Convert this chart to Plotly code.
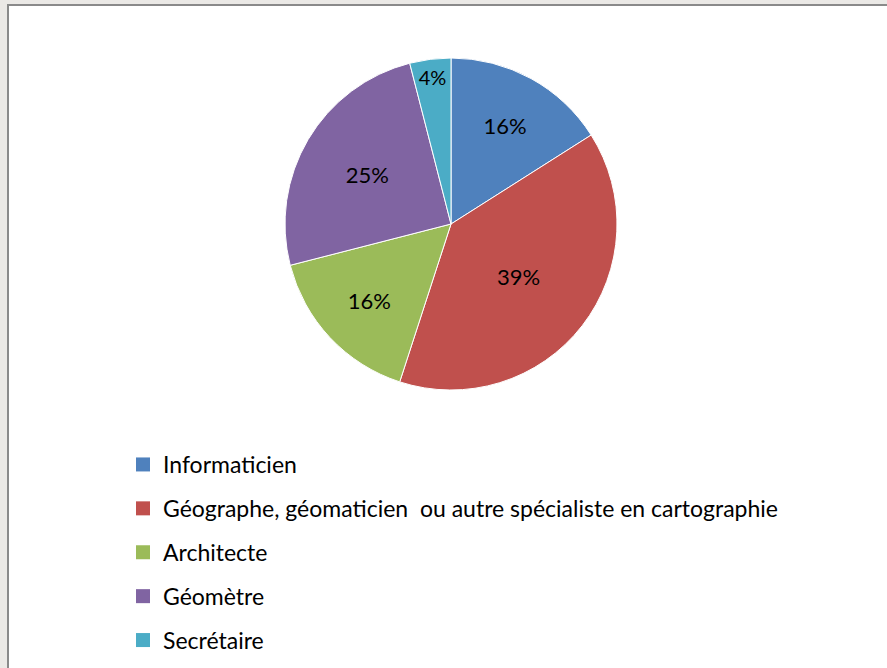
import plotly.graph_objects as go

# Répartition des profils (lecture du graphique)
metiers = [
    "Informaticien",
    "Géographe, géomaticien  ou autre spécialiste en cartographie",
    "Architecte",
    "Géomètre",
    "Secrétaire",
]
parts = [16, 39, 16, 25, 4]
couleurs = ["#4F81BD", "#C0504D", "#9BBB59", "#8064A2", "#4BACC6"]

W, H = 887, 668
police = "Lato"

fig = go.Figure()

fig.add_trace(
    go.Pie(
        labels=metiers,
        values=parts,
        sort=False,
        direction="clockwise",
        rotation=0,
        marker={"colors": couleurs, "line": {"color": "white", "width": 1}},
        texttemplate="%{percent:.0%}",
        textposition="inside",
        insidetextorientation="horizontal",
        textfont={"family": police, "size": 22, "color": "black"},
        domain={"x": [285 / W, 617 / W], "y": [1 - 390 / H, 1 - 58 / H]},
        showlegend=False,
        hoverinfo="label+percent",
    )
)

# legend entries drawn with invisible scatter traces so the spacing can match
for i, (nom, c) in enumerate(zip(metiers, couleurs)):
    fig.add_trace(
        go.Scatter(
            x=[None],
            y=[None],
            mode="markers",
            marker={"symbol": "square", "size": 14, "color": c},
            name=nom,
            legendgroup=f"g{i}",
        )
    )

fig.update_layout(
    width=W,
    height=H,
    margin={"l": 0, "r": 0, "t": 0, "b": 0},
    paper_bgcolor="#ebe9e6",
    plot_bgcolor="rgba(0,0,0,0)",
    xaxis={"visible": False},
    yaxis={"visible": False},
    legend={
        "x": 123 / W,
        "y": 1 - 443 / H,
        "xanchor": "left",
        "yanchor": "top",
        "font": {"family": police, "size": 23, "color": "black"},
        "tracegroupgap": 11,
        "itemwidth": 30,
        "bgcolor": "rgba(0,0,0,0)",
    },
    shapes=[
        {
            "type": "rect",
            "xref": "paper",
            "yref": "paper",
            "x0": 8 / W,
            "x1": 1.01,
            "y0": -0.01,
            "y1": 1 - 5 / H,
            "fillcolor": "white",
            "line": {"color": "#8a8a8a", "width": 2},
            "layer": "below",
        }
    ],
)

fig.write_html(
    "out.html",
    config={"displayModeBar": False},
    post_script="document.body.style.margin='0';document.body.style.overflow='hidden';",
)
